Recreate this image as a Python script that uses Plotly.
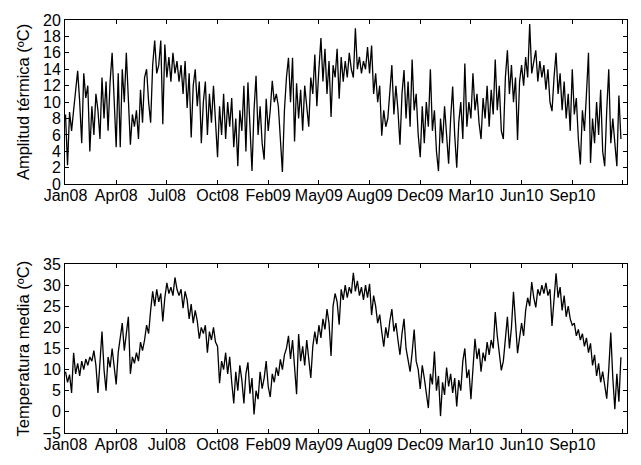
import pandas as pd
import plotly.graph_objects as go

# Daily-station series sampled every 4 days from 1 Jan 2008
start_date = "2008-01-01"
step_days = 4

# Amplitud térmica (ºC)
amplitud = [
    8.5, 2.3, 8.8, 6.5, 9.0, 11.5, 13.8, 10.0, 5.0, 13.5, 10.5, 12.0, 4.0, 9.5, 6.0, 11.0,
    9.0, 5.5, 13.0, 8.0, 12.5, 6.5, 12.5, 16.0, 9.5, 4.5, 13.5, 4.5, 14.0, 10.0, 16.0, 11.0,
    4.8, 8.5, 7.0, 9.0, 5.5, 11.5, 7.5, 13.0, 14.0, 10.0, 7.5, 14.5, 17.5, 13.5, 14.5, 17.5,
    7.3, 17.0, 13.0, 15.5, 12.5, 16.0, 13.5, 15.0, 12.5, 14.5, 11.0, 15.0, 9.3, 13.5, 5.7, 12.0,
    14.0, 9.5, 12.5, 5.0, 10.0, 12.5, 6.0, 11.0, 7.5, 12.0, 8.0, 3.3, 9.5, 6.0, 11.0, 5.5,
    10.0, 7.0, 10.5, 4.5, 8.0, 2.2, 9.0, 6.5, 12.0, 4.0, 12.4, 7.0, 1.6, 9.0, 13.2, 6.0,
    9.5, 5.0, 3.0, 10.4, 6.5, 9.0, 12.6, 10.0, 11.0, 9.5, 5.0, 1.5, 9.0, 13.0, 15.4, 10.0,
    15.4, 5.2, 12.3, 8.0, 11.5, 6.5, 12.0, 9.0, 7.0, 13.0, 11.0, 15.8, 9.5, 14.0, 17.8, 12.5,
    16.5, 11.0, 15.0, 8.2, 14.5, 13.0, 16.5, 10.4, 15.5, 12.5, 15.0, 13.0, 16.0, 14.0, 13.0, 19.0,
    14.0, 15.5, 13.5, 15.0, 14.0, 16.7, 13.5, 16.9, 11.0, 13.5, 10.0, 12.0, 5.9, 9.0, 7.0, 8.0,
    11.0, 14.5, 8.5, 12.0, 9.0, 4.8, 11.0, 13.9, 8.0, 12.5, 7.0, 15.2, 9.0, 11.0, 6.0, 3.3,
    9.5, 5.0, 10.0, 7.0, 14.0, 6.5, 9.0, 4.0, 1.6, 8.0, 5.0, 9.5, 6.0, 2.5, 8.0, 11.9,
    6.0, 2.0, 7.5, 10.0, 5.5, 14.7, 7.0, 10.0, 8.0, 13.5, 9.0, 11.0, 7.5, 5.5, 10.5, 8.0,
    12.0, 7.0, 11.5, 8.5, 15.2, 9.0, 12.0, 6.5, 5.5, 13.0, 16.3, 11.0, 14.5, 10.0, 13.0, 5.4,
    12.5, 14.5, 12.0, 15.5, 13.0, 19.5, 13.5, 15.0, 16.3, 12.5, 15.0, 13.0, 14.5, 11.5, 14.0, 10.0,
    8.9, 13.0, 16.0, 11.0, 13.5, 9.0, 12.5, 8.0, 11.0, 6.5, 14.0, 8.5, 10.5, 5.5, 2.4, 9.0,
    6.5, 11.0, 16.0, 2.6, 8.0, 5.0, 10.0, 6.0, 11.5, 4.0, 2.2, 9.0, 14.0, 5.0, 8.0, 5.0,
    2.2, 10.8, 5.5,
]

# Temperatura media (ºC)
temp_media = [
    9.5, 7.0, 8.8, 4.5, 14.0, 9.0, 11.5, 8.5, 12.0, 10.0, 12.5, 11.0, 13.0, 12.0, 14.5, 11.0,
    4.5, 12.0, 19.0, 10.0, 5.0, 13.0, 10.5, 15.0, 11.0, 6.5, 14.0, 17.0, 21.0, 14.5, 18.0, 22.5,
    9.0, 13.0, 11.5, 14.0, 12.0, 16.5, 14.5, 17.0, 20.5, 18.5, 24.0, 28.5, 25.0, 29.0, 26.0, 28.0,
    21.4, 27.0, 30.5, 28.0, 29.5, 27.5, 31.8, 29.0, 27.5, 29.0, 24.5, 28.5, 26.5, 22.0, 25.5, 21.0,
    24.0, 21.5, 17.3, 20.0, 18.5, 20.5, 14.0, 19.0, 17.0, 20.0, 16.5, 15.5, 6.8, 12.0, 10.0, 14.0,
    9.0, 13.0, 7.0, 2.0, 9.5, 5.0, 11.0, 7.5, 2.0, 9.0, 11.7, 4.3, 8.0, -0.6, 5.0, 3.0,
    9.5, 5.5, 8.0, 12.0, 6.0, 3.5, 9.0, 7.0, 10.5, 8.5, 12.4, 10.0, 13.5, 15.0, 18.0, 12.5,
    17.0, 10.0, 4.2, 18.4, 12.0, 15.5, 11.0, 17.0, 13.0, 8.0, 15.5, 19.0, 16.0, 20.5, 17.5, 22.0,
    19.5, 24.3, 21.0, 13.2, 25.0, 28.0, 26.0, 20.6, 29.0, 26.5, 30.0, 27.0, 29.5, 28.0, 32.9, 28.5,
    31.0, 27.5, 29.5, 26.5, 30.0, 27.0, 30.3, 22.9, 27.5, 25.0, 21.0, 23.0, 19.0, 15.4, 20.0, 17.5,
    21.5, 24.3, 19.0, 21.0, 17.0, 13.5, 18.5, 22.0, 15.0, 12.0, 9.5, 14.0, 19.5, 12.0, 10.0, 5.4,
    11.0, 8.0, 4.0, 0.9, 9.0, 6.5, 14.3, 5.0, 8.5, -1.0, 7.0, 4.0, 10.5, 6.0, 9.0, 4.5,
    8.0, 1.3, 7.5, 5.0, 12.0, 15.0, 8.0, 10.0, 3.0, 11.0, 17.3, 12.5, 15.0, 9.5, 14.0, 12.0,
    16.5, 13.5, 17.0, 15.0, 23.6, 18.0, 14.0, 9.8, 12.0, 17.0, 22.5, 15.0, 20.0, 28.4, 22.0, 13.9,
    17.5, 21.0, 18.0, 24.0, 27.0, 25.0, 30.7, 27.0, 24.7, 29.0, 27.5, 30.0, 28.0, 30.5, 27.5, 29.0,
    20.3, 27.0, 32.8, 27.0, 29.5, 24.0, 27.5, 22.5, 25.0, 22.0, 20.5, 21.0, 18.0, 19.5, 17.0, 18.5,
    15.5, 17.5, 14.0, 16.2, 11.0, 13.5, 8.5, 11.5, 7.0, 9.5, 6.0, 3.1, 10.0, 18.75, 8.0, 0.6,
    9.0, 2.4, 12.9,
]

t0 = pd.Timestamp(start_date)
fechas_amp = pd.date_range(t0, periods=len(amplitud), freq=f"{step_days}D")
fechas_tm = pd.date_range(t0, periods=len(temp_media), freq=f"{step_days}D")

x_range = [t0 - pd.Timedelta(days=1), t0 + pd.Timedelta(days=1108)]

FONT = "Liberation Sans, Arial, Helvetica, sans-serif"

fig = go.Figure()
fig.add_trace(go.Scatter(x=fechas_amp, y=amplitud, mode="lines",
                         line=dict(color="black", width=1.3), xaxis="x", yaxis="y"))
fig.add_trace(go.Scatter(x=fechas_tm, y=temp_media, mode="lines",
                         line=dict(color="black", width=1.3), xaxis="x2", yaxis="y2"))

xcommon = dict(
    type="date", range=x_range, tick0=start_date, dtick=100 * 86400000,
    tickformat="%b%y", ticks="inside", ticklen=4, tickcolor="black",
    showline=True, linecolor="black", linewidth=1, mirror="ticks",
    showgrid=False, zeroline=False, ticklabelstandoff=-3,
    tickfont=dict(size=16, color="black"),
)
ycommon = dict(
    ticks="inside", ticklen=4, tickcolor="black",
    showline=True, linecolor="black", linewidth=1, mirror="ticks",
    showgrid=False, zeroline=False, tickfont=dict(size=16, color="black"),
)

fig.update_layout(
    width=641, height=465,
    margin=dict(l=65, r=14, t=13, b=27),
    paper_bgcolor="white", plot_bgcolor="white",
    font=dict(family=FONT, color="black"),
    showlegend=False,
    xaxis=dict(xcommon, anchor="y", domain=[0, 1]),
    yaxis=dict(ycommon, anchor="x", domain=[0.6024, 1.0], range=[0, 20], dtick=2),
    xaxis2=dict(xcommon, anchor="y2", domain=[0, 1]),
    yaxis2=dict(ycommon, anchor="x2", domain=[0.0, 0.4094], range=[-5, 35], dtick=5),
    annotations=[
        dict(text="Amplitud térmica (ºC)", xref="paper", yref="paper",
             x=-0.0747, y=0.8012, textangle=-90, showarrow=False,
             xanchor="center", yanchor="middle", font=dict(size=16.5, color="black")),
        dict(text="Temperatura media (ºC)", xref="paper", yref="paper",
             x=-0.0747, y=0.2047, textangle=-90, showarrow=False,
             xanchor="center", yanchor="middle", font=dict(size=16.5, color="black")),
    ],
)

fig.write_html("out.html")
